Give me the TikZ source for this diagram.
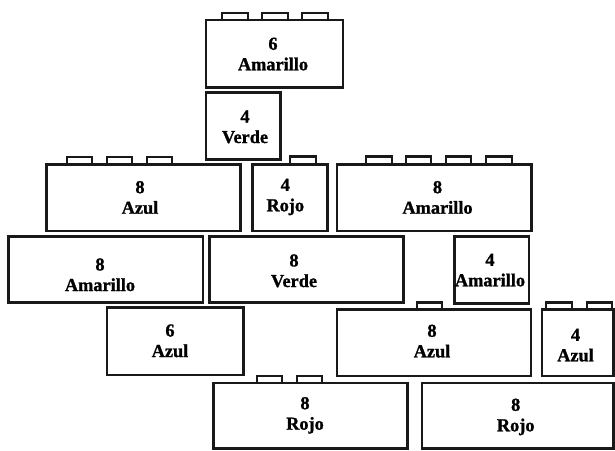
\documentclass[tikz,border=0pt]{standalone}
\usepackage{fontspec}
\setmainfont{Liberation Serif}[BoldFeatures={FakeBold=1.2}]
\begin{document}
\begin{tikzpicture}[x=1pt,y=-1pt]
\tikzset{
  brickline/.style={draw=black!90, line width=2.6pt},
  studline/.style={draw=black!90, line width=2.1pt, fill=white},
  lbl/.style={font=\bfseries\fontsize{18.3}{20.5}\selectfont, inner sep=0pt, anchor=base, text=black}
}
\newcommand\mystuds[3]{\foreach \sx in {#3} {\draw[studline] (\sx,#1) rectangle (\sx+25.7,#2);}}
\useasboundingbox (0,0) rectangle (615,450);
% row 1
\mystuds{13}{20}{222,262,302}
\draw[brickline] (206,20) rectangle (343,87.7);
\node[lbl] (a1) at (273,49.8) {6};
\node[lbl] (a2) at (273,70.3) {Amarillo};
% row 2
\draw[brickline] (206,92.5) rectangle (280.5,159.3);
\node[lbl] (b1) at (245,122.5) {4};
\node[lbl] (b2) at (245,143) {Verde};
% row 3
\mystuds{156.7}{164.3}{66.7,106.7,146.7}
\draw[brickline] (46.5,164.3) rectangle (240.5,231);
\node[lbl] (c1) at (140,193.2) {8};
\node[lbl] (c2) at (140,213.7) {Azul};
\mystuds{156.5}{164.3}{290}
\draw[brickline] (252.5,164.3) rectangle (327.5,231);
\node[lbl] (d1) at (285.3,190.8) {4};
\node[lbl] (d2) at (285.3,211.3) {Rojo};
\mystuds{156.5}{164.3}{366,405.7,445.7,486}
\draw[brickline] (337,164.3) rectangle (531.5,231);
\node[lbl] (e1) at (437.5,193.2) {8};
\node[lbl] (e2) at (437.5,213.7) {Amarillo};
% row 4
\draw[brickline] (8.5,236.5) rectangle (203,302.7);
\node[lbl] (f1) at (100,270.5) {8};
\node[lbl] (f2) at (100,291) {Amarillo};
\draw[brickline] (209.5,236.5) rectangle (403.5,302.7);
\node[lbl] (g1) at (294,266.5) {8};
\node[lbl] (g2) at (294,287) {Verde};
\draw[brickline] (454.5,236.5) rectangle (529,303.5);
\node[lbl] (h1) at (490,265.8) {4};
\node[lbl] (h2) at (490,286.3) {Amarillo};
% row 5
\draw[brickline] (107,307.3) rectangle (243.5,375);
\node[lbl] (i1) at (170,336.5) {6};
\node[lbl] (i2) at (170,357) {Azul};
\mystuds{302.5}{309.5}{416.7}
\draw[brickline] (337,309.5) rectangle (531,376);
\node[lbl] (j1) at (432,336.8) {8};
\node[lbl] (j2) at (432,357.3) {Azul};
\mystuds{302.5}{309.5}{546,586.7}
\draw[brickline] (542,309.5) rectangle (613.6,376);
\node[lbl] (k1) at (575.5,340.8) {4};
\node[lbl] (k2) at (575.5,361.3) {Azul};
% row 6
\mystuds{375.7}{383}{256.7,296.7}
\draw[brickline] (213.5,383) rectangle (407.5,448.3);
\node[lbl] (l1) at (305,409.2) {8};
\node[lbl] (l2) at (305,429.7) {Rojo};
\draw[brickline] (422,383) rectangle (613.6,448.3);
\node[lbl] (m1) at (515.7,410.8) {8};
\node[lbl] (m2) at (515.7,431.3) {Rojo};
\end{tikzpicture}
\end{document}
